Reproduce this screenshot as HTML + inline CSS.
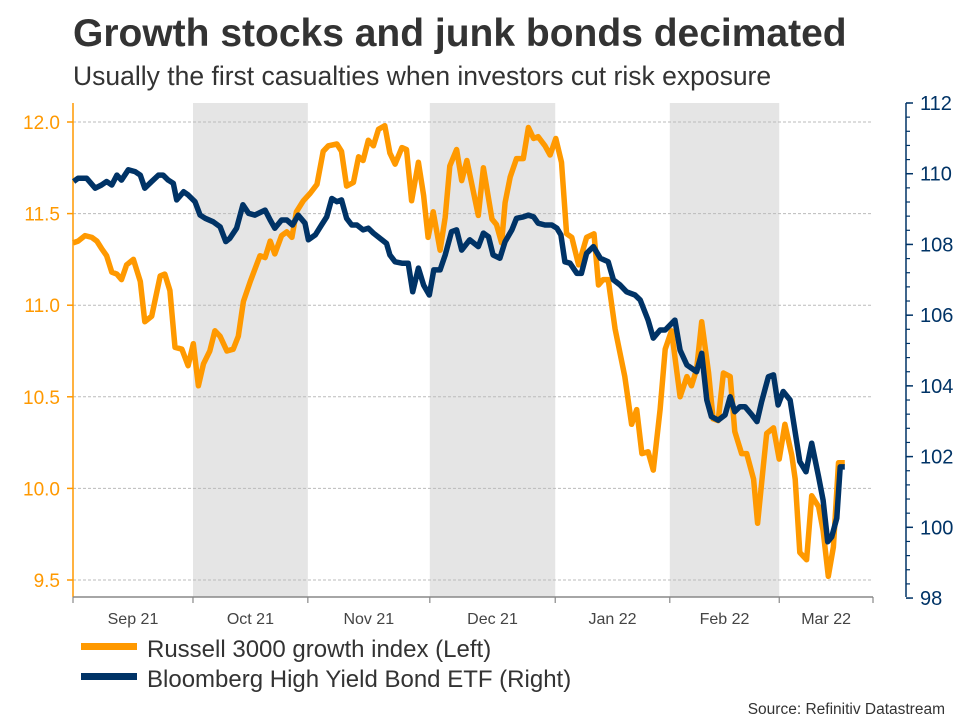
<!DOCTYPE html>
<html><head><meta charset="utf-8"><style>
body{margin:0;background:#fff;font-family:"Liberation Sans",Arial,sans-serif;}
svg{display:block}
</style></head><body>
<svg id="c" width="960" height="720" xmlns="http://www.w3.org/2000/svg">
<text x="73" y="46" font-size="39" font-weight="bold" fill="#333">Growth stocks and junk bonds decimated</text>
<text x="73" y="85" font-size="26.5" fill="#333">Usually the first casualties when investors cut risk exposure</text>
<g id="bands"></g><g id="grid"></g><g id="axes"></g><g id="series"></g>
<g>
<rect x="81" y="643" width="56" height="7" fill="#ff9900"/>
<text x="147" y="657" font-size="24" fill="#333">Russell 3000 growth index (Left)</text>
<rect x="81" y="673" width="56" height="7" fill="#003366"/>
<text x="147" y="687" font-size="24" fill="#333">Bloomberg High Yield Bond ETF (Right)</text>
</g>
<text x="945" y="714" font-size="15.5" fill="#333" text-anchor="end">Source: Refinitiv Datastream</text>
</svg>
<script>
const monthLabels=["Sep 21","Oct 21","Nov 21","Dec 21","Jan 22","Feb 22","Mar 22"];
const monthStarts=[0,21.05,41.2,62.6,84.6,104.7,123.9];
const shadedMonths=[1,3,5];
const leftTicks=[9.5,10.0,10.5,11.0,11.5,12.0];
const rightTicks=[98,100,102,104,106,108,110,112];
const rDays=[0,0.9,2.1,3.3,4.2,5,5.9,6.8,7.7,8.5,9.4,10.6,11.8,12.6,13.8,15.3,16.1,17,17.9,19.1,20.2,21.1,22,22.9,24,24.9,25.8,27,28.1,29,29.9,31.1,32.8,33.7,34.6,35.4,36.6,37.5,38.4,39.2,40.4,41.6,42.8,43.9,44.8,46.3,47.1,48,49.2,50.1,50.9,51.8,52.7,53.6,54.7,55.6,56.5,57.7,58.5,59.4,60.6,61.5,62.3,63.2,64.4,65.3,66.1,67.3,68.2,69.1,71.1,72,73.5,74.3,75.2,75.8,76.7,77.8,79,79.9,80.8,81.6,82.8,83.7,84.7,85.7,86.6,87.5,88.7,90.1,91.4,92.2,93,93.9,95.1,96.8,98,98.9,99.8,100.9,101.8,103,103.9,105,106.5,107.7,108.5,109.4,110.3,111.5,112.3,113.2,114.1,115.3,116.1,117.3,118.2,119.4,120.1,121.1,121.7,122.9,123.9,124.9,126.1,126.7,127.5,128.7,129.6,130.8,131.6,132.5,133.4,134.3,135.4];
const rVals=[11.34,11.35,11.38,11.37,11.35,11.31,11.27,11.18,11.17,11.14,11.22,11.25,11.13,10.91,10.94,11.16,11.17,11.08,10.77,10.76,10.67,10.79,10.56,10.68,10.75,10.86,10.83,10.75,10.76,10.83,11.02,11.13,11.27,11.26,11.35,11.28,11.38,11.40,11.37,11.51,11.57,11.61,11.66,11.84,11.87,11.88,11.84,11.65,11.67,11.81,11.79,11.90,11.87,11.96,11.98,11.83,11.77,11.86,11.85,11.57,11.78,11.60,11.37,11.51,11.30,11.48,11.76,11.85,11.68,11.79,11.49,11.75,11.47,11.44,11.34,11.56,11.70,11.80,11.80,11.97,11.91,11.92,11.87,11.82,11.91,11.78,11.39,11.37,11.22,11.37,11.39,11.11,11.14,11.14,10.87,10.61,10.35,10.43,10.19,10.20,10.10,10.43,10.76,10.86,10.50,10.61,10.56,10.65,10.91,10.63,10.38,10.37,10.63,10.61,10.31,10.19,10.19,10.05,9.81,10.12,10.30,10.33,10.16,10.35,10.18,10.05,9.65,9.61,9.96,9.90,9.77,9.52,9.68,10.14,10.14];
const bDays=[0.1,0.9,2.4,3.9,5,5.9,6.8,7.7,8.5,9.7,10.9,11.8,12.6,13.8,15,15.8,16.7,17.6,18.2,19.4,20.2,21.4,22.3,23.2,24.6,25.8,26.8,27.5,28.7,29.8,30.8,31.9,33.7,34.6,35.4,36.6,37.5,38.5,39.5,40.7,41.3,42.5,43.6,44.5,45.4,46.3,47.1,48,48.9,49.8,50.9,51.8,52.7,54.2,55,55.6,56.5,57.7,58.8,59.6,60.6,61.5,62.5,63.3,64.4,65.3,66.4,67.3,68.2,69.6,71.1,72,72.9,73.7,74.9,75.8,77,77.8,79,79.9,80.8,81.6,82.8,84,84.9,85.6,86.3,87.2,88.4,89.2,90.1,91.3,92.5,93.9,94.8,96,97.1,98.6,99.5,100.9,101.8,103,103.9,105.6,106.5,107.7,109.4,110.3,111.2,112,113.2,114.4,115.3,116.1,117,117.9,119.1,120,120.8,122,122.9,123.7,124.6,125.8,127.5,128.6,129.6,130.8,131.6,132.4,133.1,134,134.6,135.4];
const bVals=[109.78,109.87,109.87,109.59,109.68,109.78,109.68,109.96,109.82,110.11,110.06,109.96,109.59,109.78,109.96,109.96,109.82,109.73,109.26,109.49,109.40,109.21,108.83,108.74,108.64,108.50,108.08,108.17,108.46,109.12,108.88,108.83,108.97,108.69,108.46,108.69,108.69,108.55,108.83,108.60,108.13,108.27,108.55,108.78,109.30,109.21,109.26,108.74,108.55,108.55,108.41,108.46,108.32,108.13,108.03,107.70,107.51,107.47,107.47,106.66,107.33,106.85,106.57,107.28,107.28,107.70,108.36,108.41,107.84,108.13,107.94,108.32,108.22,107.70,107.61,108.08,108.41,108.74,108.78,108.83,108.78,108.60,108.55,108.55,108.46,108.27,107.51,107.47,107.18,107.18,107.75,107.94,107.61,107.51,107.00,106.85,106.66,106.57,106.43,105.86,105.35,105.58,105.58,105.86,105.01,104.59,104.40,104.92,103.60,103.13,103.03,103.18,103.69,103.27,103.41,103.41,103.18,102.99,103.55,104.26,104.31,103.46,103.84,103.60,101.86,101.57,102.38,101.43,100.77,99.59,99.73,100.26,101.71,101.71];

const NS="http://www.w3.org/2000/svg";
const X0=73,X1=873,YT=103,YB=597,DAYS_END=140.35;
const xS=d=>X0+d*(X1-X0)/DAYS_END;
const yL=v=>122+(12-v)*183.2;
const yR=v=>103+(112-v)*35.36;
function mk(tag,attrs,parent){const e=document.createElementNS(NS,tag);for(const k in attrs)e.setAttribute(k,attrs[k]);document.getElementById(parent).appendChild(e);return e;}
const bounds=monthStarts.concat([DAYS_END]);
shadedMonths.forEach(i=>{
  const r=mk('rect',{x:xS(bounds[i]),y:YT,width:xS(bounds[i+1])-xS(bounds[i]),height:YB-YT,fill:'#e5e5e5'},'bands');
  
  
});
leftTicks.forEach(v=>{
  const g=mk('line',{x1:X0,x2:X1,y1:yL(v),y2:yL(v),stroke:'#bbb','stroke-dasharray':'3,2','stroke-width':1},'grid');
  
  
  const t=mk('line',{x1:X0-6,x2:X0,y1:yL(v),y2:yL(v),stroke:'#ff9900','stroke-width':1.5},'axes');
  
  
  const l=mk('text',{x:X0-13,y:yL(v)+7,'font-size':19,fill:'#ff9900','text-anchor':'end'},'axes');
  l.textContent=v.toFixed(1);
  
  
});
const ax=mk('line',{x1:X0,x2:X0,y1:YT,y2:YB,stroke:'#ff9900','stroke-width':1.5},'axes');


const RX=906;
const ra=mk('line',{x1:RX,x2:RX,y1:YT,y2:YB,stroke:'#003366','stroke-width':1.5},'axes');


for(let v=98;v<=112.001;v+=0.4){
  const t=mk('line',{x1:RX,x2:RX+4,y1:yR(v),y2:yR(v),stroke:'#003366','stroke-width':1.2},'axes');
  
  
}
rightTicks.forEach(v=>{
  const t=mk('line',{x1:RX,x2:RX+7,y1:yR(v),y2:yR(v),stroke:'#003366','stroke-width':1.5},'axes');
  
  
  const l=mk('text',{x:RX+14,y:yR(v)+7,'font-size':20,fill:'#003366'},'axes');
  l.textContent=v;
  
  
});
const bx=mk('line',{x1:X0,x2:X1,y1:YB,y2:YB,stroke:'#888','stroke-width':1.5},'axes');


bounds.forEach((d,i)=>{
  const t=mk('line',{x1:xS(d),x2:xS(d),y1:YB,y2:YB+6,stroke:'#888','stroke-width':1.2},'axes');
  
  
});
monthLabels.forEach((m,i)=>{
  const l=mk('text',{x:(xS(bounds[i])+xS(bounds[i+1]))/2,y:624,'font-size':16,fill:'#444','text-anchor':'middle'},'axes');
  l.textContent=m;
  
  
});
function line(days,vals,ys,color,name){
  const d=days.map((t,i)=>(i?'L':'M')+xS(t).toFixed(1)+','+ys(vals[i]).toFixed(1)).join('');
  const p=mk('path',{d:d,fill:'none',stroke:color,'stroke-width':5.5,'stroke-linejoin':'round'},'series');
  
  
}
line(rDays,rVals,yL,'#ff9900','russell-3000-growth-line');
line(bDays,bVals,yR,'#003366','bloomberg-high-yield-line');
</script>
</body></html>
